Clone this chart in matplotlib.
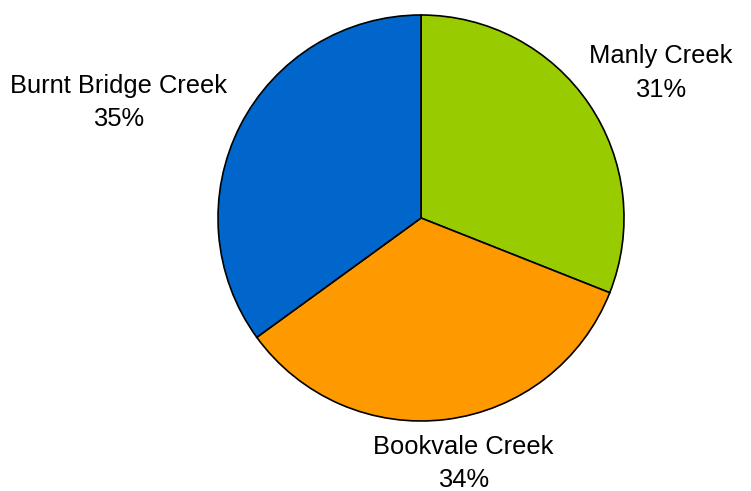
import matplotlib.pyplot as plt

# Share of total by creek
creeks = ['Manly Creek', 'Bookvale Creek', 'Burnt Bridge Creek']
shares = [31, 34, 35]
colors = ['#99CC00', '#FF9900', '#0066CC']

# label anchors (x, y) in units of pie radius, relative to pie centre
label_pos = [(1.18, 0.715), (0.21, -1.21), (-1.49, 0.57)]

W, H, DPI = 751, 491, 100
cx, cy, r = 421, 218, 203  # pie centre / radius in pixels (y from top)

fig = plt.figure(figsize=(W / DPI, H / DPI), dpi=DPI)
ax = fig.add_axes([0, 0, 1, 1])

wedges, _ = ax.pie(shares, colors=colors, startangle=90, counterclock=False,
                   radius=1.0, center=(0, 0),
                   wedgeprops=dict(edgecolor='black', linewidth=1.2))

ax.set_xlim(-cx / r, (W - cx) / r)
ax.set_ylim(-(H - cy) / r, cy / r)
ax.set_aspect('equal')
ax.axis('off')

for name, val, (lx, ly) in zip(creeks, shares, label_pos):
    ax.text(lx, ly, f'{name}\n{val}%', ha='center', va='center',
            fontsize=18.4, family='Liberation Sans', linespacing=1.5)

fig.savefig('out.png', dpi=DPI, facecolor='white')
